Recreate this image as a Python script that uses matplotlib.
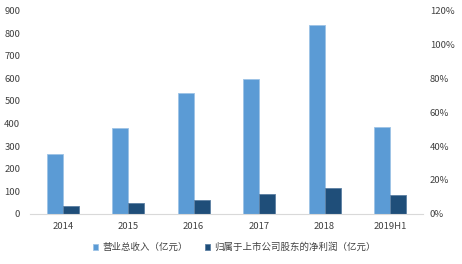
import numpy as np
import matplotlib.pyplot as plt
from matplotlib.ticker import FuncFormatter

plt.rcParams['font.family'] = ['Noto Sans CJK SC', 'DejaVu Sans']

# Datos
years = ['2014', '2015', '2016', '2017', '2018', '2019H1']
revenue = [266, 381, 536, 598, 838, 385]      # 营业总收入（亿元）
net_profit = [34, 49, 62, 87, 114, 83]        # 归属于上市公司股东的净利润（亿元）

light = '#5b9bd5'
dark = '#1f4e79'

fig = plt.figure(figsize=(4.62, 2.64), dpi=100)
ax = fig.add_axes([0.065, 0.19, 0.85, 0.77])
x = np.arange(len(years))
w = 0.245
ax.bar(x - w / 2, revenue, w, color=light, edgecolor='#9dc3e6', linewidth=0.6,
       label='营业总收入（亿元）')
ax.bar(x + w / 2, net_profit, w, color=dark, edgecolor='#5b7fa3', linewidth=0.6,
       label='归属于上市公司股东的净利润（亿元）')

ax.set_xlim(-0.5, len(years) - 0.5)
ax.set_ylim(0, 900)
ax.set_yticks(range(0, 901, 100))
ax.set_xticks(x)
ax.set_xticklabels(years)
for s in ['top', 'right', 'left']:
    ax.spines[s].set_visible(False)
ax.spines['bottom'].set_color('#d9d9d9')
ax.tick_params(length=0, labelsize=6.8, colors='#404040', pad=6)
ax.tick_params(axis='y', pad=7)

ax2 = ax.twinx()
ax2.set_ylim(0, 1.2)
ax2.set_yticks(np.arange(0, 1.21, 0.2))
ax2.yaxis.set_major_formatter(FuncFormatter(lambda v, p: f'{v * 100:.0f}%'))
for s in ax2.spines.values():
    s.set_visible(False)
ax2.tick_params(length=0, labelsize=6.8, colors='#404040', pad=5)

ax.legend(loc='upper center', bbox_to_anchor=(0.52, -0.1), ncol=2, frameon=False,
          fontsize=6.8, handlelength=0.6, handleheight=0.6, columnspacing=1.8,
          handletextpad=0.4, labelcolor='#404040')

fig.savefig('out.png', dpi=100)
